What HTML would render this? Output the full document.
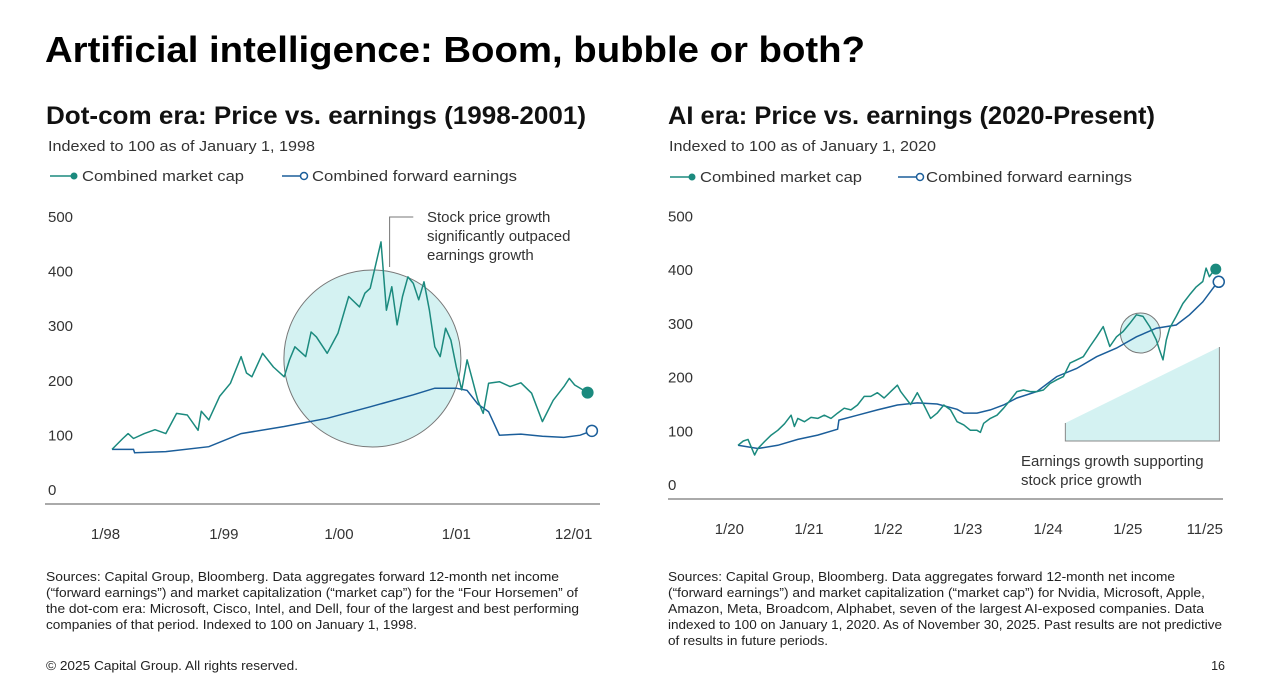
<!DOCTYPE html>
<html><head><meta charset="utf-8">
<style>
html,body{margin:0;padding:0;background:#fff;}
svg{display:block;font-family:"Liberation Sans",sans-serif;}
</style></head>
<body>
<svg id="page" width="1273" height="699" viewBox="0 0 1273 699">
<text x="45" y="62" font-size="36" font-weight="bold" fill="#000" textLength="820" lengthAdjust="spacingAndGlyphs">Artificial intelligence: Boom, bubble or both?</text>

<text x="46" y="124" font-size="25" font-weight="bold" fill="#111" textLength="540" lengthAdjust="spacingAndGlyphs">Dot-com era: Price vs. earnings (1998-2001)</text>
<text x="48" y="151" font-size="15" fill="#333" textLength="267" lengthAdjust="spacingAndGlyphs">Indexed to 100 as of January 1, 1998</text>
<g>
 <g><line x1="50" y1="176" x2="74" y2="176" stroke="#1b8a7e" stroke-width="1.5"/><circle cx="74" cy="176" r="3.5" fill="#1b8a7e"/><text x="82" y="181" font-size="15" fill="#333" textLength="162" lengthAdjust="spacingAndGlyphs">Combined market cap</text></g>
 <g><line x1="282" y1="176" x2="301" y2="176" stroke="#1b5e9a" stroke-width="1.5"/><circle cx="304" cy="176" r="3.5" fill="#fff" stroke="#1b5e9a" stroke-width="1.5"/><text x="312" y="181" font-size="15" fill="#333" textLength="205" lengthAdjust="spacingAndGlyphs">Combined forward earnings</text></g>
</g>

<text x="668" y="124" font-size="25" font-weight="bold" fill="#111" textLength="487" lengthAdjust="spacingAndGlyphs">AI era: Price vs. earnings (2020-Present)</text>
<text x="669" y="151" font-size="15" fill="#333" textLength="267" lengthAdjust="spacingAndGlyphs">Indexed to 100 as of January 1, 2020</text>
<g>
 <g><line x1="670" y1="177" x2="692" y2="177" stroke="#1b8a7e" stroke-width="1.5"/><circle cx="692" cy="177" r="3.5" fill="#1b8a7e"/><text x="700" y="182" font-size="15" fill="#333" textLength="162" lengthAdjust="spacingAndGlyphs">Combined market cap</text></g>
 <g><line x1="898" y1="177" x2="917" y2="177" stroke="#1b5e9a" stroke-width="1.5"/><circle cx="920" cy="177" r="3.5" fill="#fff" stroke="#1b5e9a" stroke-width="1.5"/><text x="926" y="182" font-size="15" fill="#333" textLength="206" lengthAdjust="spacingAndGlyphs">Combined forward earnings</text></g>
</g>

<g id="leftChart"></g>
<g id="rightChart"></g>

<g font-size="12.5" fill="#222">
<text x="46" y="581" textLength="513" lengthAdjust="spacingAndGlyphs">Sources: Capital Group, Bloomberg. Data aggregates forward 12-month net income</text>
<text x="46" y="597" textLength="532" lengthAdjust="spacingAndGlyphs">(“forward earnings”) and market capitalization (“market cap”) for the “Four Horsemen” of</text>
<text x="46" y="613" textLength="533" lengthAdjust="spacingAndGlyphs">the dot-com era: Microsoft, Cisco, Intel, and Dell, four of the largest and best performing</text>
<text x="46" y="629" textLength="371" lengthAdjust="spacingAndGlyphs">companies of that period. Indexed to 100 on January 1, 1998.</text>
</g>
<g font-size="12.5" fill="#222">
<text x="668" y="581" textLength="507" lengthAdjust="spacingAndGlyphs">Sources: Capital Group, Bloomberg. Data aggregates forward 12-month net income</text>
<text x="668" y="597" textLength="537" lengthAdjust="spacingAndGlyphs">(“forward earnings”) and market capitalization (“market cap”) for Nvidia, Microsoft, Apple,</text>
<text x="668" y="613" textLength="536" lengthAdjust="spacingAndGlyphs">Amazon, Meta, Broadcom, Alphabet, seven of the largest AI-exposed companies. Data</text>
<text x="668" y="629" textLength="554" lengthAdjust="spacingAndGlyphs">indexed to 100 on January 1, 2020. As of November 30, 2025. Past results are not predictive</text>
<text x="668" y="645" textLength="160" lengthAdjust="spacingAndGlyphs">of results in future periods.</text>
</g>
<text x="46" y="670" font-size="12.5" fill="#222" textLength="252" lengthAdjust="spacingAndGlyphs">© 2025 Capital Group. All rights reserved.</text>
<text x="1225" y="670" font-size="12.5" fill="#222" text-anchor="end">16</text>
</svg>
<script>
// ---- Dot-com chart data (t = months-ish index from Jan 1998) ----
const dcCapT = [0,1,1.5,2,3,4,5,6,7,8,8.3,9,10,11,12,12.5,13,14,15,16,16.5,17,18,18.5,19,20,21,22,23,23.5,24,25,25.5,26,26.5,27,27.5,28,28.5,29,29.5,30,30.5,31,31.5,32,32.5,33,33.5,34,34.5,35,36,37,38,39,40,41,42,42.5,43,44.2];
const dcCapV = [100,120,129,120,129,136,129,166,163,135,170,154,197,221,270,240,233,276,251,233,264,288,270,315,306,276,313,380,361,386,395,480,355,398,328,380,416,404,374,407,355,288,270,322,300,251,209,264,227,190,166,221,224,215,222,203,151,190,215,230,218,204];
const dcEarnT = [0,2,2.1,5,9,12,16,20,24,28,30,32,33,34,35,36,38,40,42,43.5,44.6];
const dcEarnV = [100,100,94,96,105,129,142,157,178,200,212,212,208,183,169,126,128,124,122,126,134];
const dcTickLabels = ["1/98","1/99","1/00","1/01","12/01"];
const dcTickT = [-0.6,10.4,21.1,32,42.9];
const yTickValues = [0,100,200,300,400,500];

// ---- AI era chart data (t = months from Jan 2020) ----
const aiCapT = [0,0.8,1.5,2.5,3,4,5,6,7,8,8.5,9,10,11,12,13,14,15,16,17,18,19,20,21,22,23,24,24.5,25,26,27,28,29,30,31,32,33,34,35,36,36.5,37,38,39,40,41,42,43,44,45,46,47,48,49,50,51,52,53,54,55,56,57,58,59,60,61,62,63,63.5,64,64.5,65,66,67,68,69,70,70.5,71,71.8];
const aiCapV = [100,108,111,82,94,107,119,128,140,156,135,150,144,152,150,156,150,160,169,166,175,191,191,198,188,200,212,200,192,176,198,175,150,160,175,166,144,138,128,128,124,141,150,156,169,184,200,203,200,200,203,215,222,228,253,259,265,284,302,321,284,302,312,327,343,340,321,296,277,259,296,318,340,364,380,395,405,430,414,428];
const aiEarnT = [0,3,6,9,12,15,15.2,18,21,24,27,30,33,34,36,38,40,42,45,48,51,54,57,60,63,66,68,70,71.8];
const aiEarnV = [100,94,100,111,119,130,147,156,166,175,179,177,167,160,160,166,175,188,200,228,243,265,281,302,318,324,343,367,397];
const aiTickLabels = ["1/20","1/21","1/22","1/23","1/24","1/25","11/25"];
const aiTickT = [-1.3,10.7,22.6,34.6,46.7,58.7,70.3];

const NS = "http://www.w3.org/2000/svg";
function mk(parent, tag, attrs){
  const el = document.createElementNS(NS, tag);
  for (const k in attrs) el.setAttribute(k, attrs[k]);
  parent.appendChild(el);
  return el;
}
function pathD(ts, vs, x, y){
  return ts.map((t,i)=>(i?"L":"M")+x(t).toFixed(1)+","+y(vs[i]).toFixed(1)).join("");
}
function drawChart(g, cfg){
  const x = t => cfg.x0 + (t - cfg.t0) * cfg.xs;
  const y = v => cfg.yBase - v * cfg.ys;
  // y tick labels
  yTickValues.forEach(v=>{
    const tx = mk(g,"text",{x:cfg.labelX, y:(y(v)-9).toFixed(1), "font-size":15, fill:"#333"});
    
    
    tx.textContent = v;
  });
  // baseline
  const ax = mk(g,"line",{x1:cfg.axisX1, x2:cfg.axisX2, y1:cfg.yBase, y2:cfg.yBase, stroke:"#777", "stroke-width":1.2});
  
  
  // x tick labels
  cfg.tickLabels.forEach((lab,i)=>{
    const tx = mk(g,"text",{x:x(cfg.tickT[i]).toFixed(1), y:cfg.yBase+35, "font-size":15, fill:"#333", "text-anchor":"middle"});
    
    
    tx.textContent = lab;
  });
  return {x,y};
}

// Left chart
(function(){
  const g = document.getElementById("leftChart");
  const cfg = {t0:0, x0:112, xs:10.76, yBase:504, ys:0.546, labelX:48, axisX1:45, axisX2:600, tickLabels:dcTickLabels, tickT:dcTickT};
  const {x,y} = drawChart(g,cfg);
  const circ = mk(g,"circle",{cx:x(24.2), cy:358.5, r:88.5, fill:"#d4f2f2", stroke:"#777", "stroke-width":1});
  
  
  const call = mk(g,"polyline",{points:`${x(25.8)},267 ${x(25.8)},217 ${x(28)},217`, fill:"none", stroke:"#777", "stroke-width":1});
  
  
  const ann = mk(g,"g",{"font-size":15, fill:"#333"});
  
  
  ["Stock price growth","significantly outpaced","earnings growth"].forEach((s,i)=>{
    const t = mk(ann,"text",{x:427, y:222+i*19}); t.textContent = s;
  });
  const e = mk(g,"path",{d:pathD(dcEarnT,dcEarnV,x,y), fill:"none", stroke:"#1b5e9a", "stroke-width":1.5});
  
  
  const c = mk(g,"path",{d:pathD(dcCapT,dcCapV,x,y), fill:"none", stroke:"#1b8a7e", "stroke-width":1.5, "stroke-linejoin":"round"});
  
  
  const d1 = mk(g,"circle",{cx:x(dcCapT[dcCapT.length-1]), cy:y(dcCapV[dcCapV.length-1]), r:6, fill:"#1b8a7e"});
  
  
  const d2 = mk(g,"circle",{cx:x(dcEarnT[dcEarnT.length-1]), cy:y(dcEarnV[dcEarnV.length-1]), r:5.5, fill:"#fff", stroke:"#1b5e9a", "stroke-width":1.5});
  
  
})();

// Right chart
(function(){
  const g = document.getElementById("rightChart");
  const cfg = {t0:0, x0:738, xs:6.64, yBase:499, ys:0.537, labelX:668, axisX1:668, axisX2:1223, tickLabels:aiTickLabels, tickT:aiTickT};
  const {x,y} = drawChart(g,cfg);
  const tri = mk(g,"polygon",{points:`${x(49.3)},441 ${x(49.3)},423 ${x(72.5)},347 ${x(72.5)},441`, fill:"#d4f2f2"});
  
  
  const triL = mk(g,"polyline",{points:`${x(49.3)},423 ${x(49.3)},441 ${x(72.5)},441 ${x(72.5)},347`, fill:"none", stroke:"#888", "stroke-width":1});
  
  
  const ann = mk(g,"g",{"font-size":15, fill:"#333"});
  
  
  ["Earnings growth supporting","stock price growth"].forEach((s,i)=>{
    const t = mk(ann,"text",{x:1021, y:466+i*19}); t.textContent = s;
  });
  const circ = mk(g,"circle",{cx:x(60.6), cy:333, r:20, fill:"#d4f2f2", stroke:"#777", "stroke-width":1});
  
  
  const e = mk(g,"path",{d:pathD(aiEarnT,aiEarnV,x,y), fill:"none", stroke:"#1b5e9a", "stroke-width":1.5});
  
  
  const c = mk(g,"path",{d:pathD(aiCapT,aiCapV,x,y), fill:"none", stroke:"#1b8a7e", "stroke-width":1.5, "stroke-linejoin":"round"});
  
  
  const d1 = mk(g,"circle",{cx:x(aiCapT[aiCapT.length-1])+1, cy:y(aiCapV[aiCapV.length-1]), r:5.5, fill:"#1b8a7e"});
  
  
  const d2 = mk(g,"circle",{cx:x(aiEarnT[aiEarnT.length-1])+4, cy:y(aiEarnV[aiEarnV.length-1])-4, r:5.5, fill:"#fff", stroke:"#1b5e9a", "stroke-width":1.5});
  
  
})();
</script>
</body></html>
